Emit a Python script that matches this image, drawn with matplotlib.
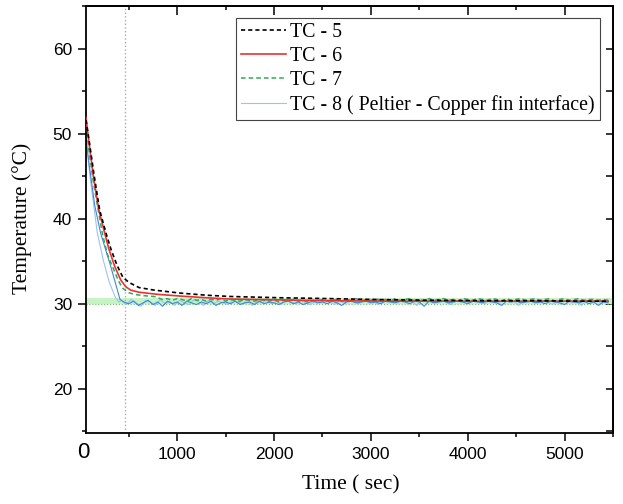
import numpy as np
import matplotlib
matplotlib.use('Agg')
import matplotlib.pyplot as plt
from matplotlib.ticker import MultipleLocator, FixedLocator
import matplotlib.transforms as mtransforms

# ---------- data ----------
# TC-5 (black dashed)
t_tc5 = [59, 95, 140, 200, 273, 320, 380, 440, 503, 606, 761, 1030, 1300, 1547,
         2063, 2580, 3000, 3300, 3700, 4200, 4700, 5200, 5450]
v_tc5 = [51.6, 48.9, 45.3, 41.0, 38.0, 36.3, 34.5, 33.1, 32.5, 31.9, 31.6, 31.25, 31.0, 30.85,
         30.7, 30.6, 30.5, 30.45, 30.4, 30.35, 30.35, 30.3, 30.3]

# TC-6 (red)
t_tc6 = [59, 90, 135, 190, 252, 296, 355, 417, 469, 520, 606, 800, 1030, 1300, 1547,
         2063, 2600, 3200, 4000, 4800, 5450]
v_tc6 = [51.9, 48.9, 45.0, 41.1, 38.3, 36.4, 34.4, 32.8, 32.0, 31.6, 31.35, 31.1, 30.9, 30.7, 30.55,
         30.45, 30.35, 30.3, 30.3, 30.3, 30.3]

# TC-7 (green dashed) - cooling part, then logged plateau every 50 s from 800 s
t_tc7_cool = [59, 90, 135, 227, 280, 331, 390, 434, 500, 555, 650, 761]
v_tc7_cool = [51.0, 48.0, 44.3, 38.3, 35.8, 34.4, 32.8, 31.85, 31.3, 31.1, 30.95, 30.85]
tc7_plateau = [30.7, 30.5, 30.6, 30.4, 30.6, 30.5, 30.3, 30.6, 30.4, 30.5,
               30.3, 30.5, 30.4, 30.6, 30.3, 30.5, 30.4, 30.3, 30.5, 30.4,
               30.3, 30.5, 30.4, 30.3, 30.5, 30.2, 30.4, 30.3, 30.5, 30.3,
               30.4, 30.2, 30.4, 30.3, 30.5, 30.3, 30.4, 30.5, 30.3, 30.5,
               30.4, 30.6, 30.3, 30.5, 30.4, 30.6, 30.4, 30.5, 30.3, 30.6,
               30.4, 30.5, 30.6, 30.4, 30.5, 30.3, 30.6, 30.4, 30.5, 30.6,
               30.4, 30.5, 30.3, 30.6, 30.5, 30.4, 30.6, 30.5, 30.4, 30.6,
               30.5, 30.3, 30.6, 30.4, 30.5, 30.6, 30.4, 30.5, 30.6, 30.4,
               30.5, 30.6, 30.3, 30.5, 30.6, 30.4, 30.5, 30.6, 30.4, 30.5,
               30.5, 30.4, 30.5, 30.4]

# TC-8 (Peltier - copper fin interface), two traces: light blue + darker blue
t_tc8_cool = [59, 100, 176, 240, 300, 360, 400]
v_tc8_cool = [49.5, 45.0, 38.3, 35.0, 32.5, 30.8, 30.2]
t_tc8b_cool = [59, 90, 150, 210, 314, 382, 410]
v_tc8b_cool = [49.3, 46.5, 41.5, 38.3, 34.4, 31.65, 30.5]
tc8_plateau = [30.4, 29.9, 30.5, 30.1, 29.7, 30.4, 30.2, 29.8, 30.5, 30.0,
               30.3, 29.8, 30.4, 30.1, 29.9, 30.5, 30.2, 29.8, 30.4, 30.0,
               30.3, 30.1, 29.9, 30.4, 30.2, 30.0, 30.4, 29.8, 30.3, 30.1,
               30.4, 30.0, 30.3, 29.9, 30.4, 30.2, 30.0, 30.4, 30.1, 29.9,
               30.3, 30.1, 30.4, 30.2, 29.9, 30.3, 30.1, 30.4, 30.2, 30.0,
               30.4, 30.2, 30.3, 29.9, 30.4, 30.2, 30.3, 30.1, 30.4, 30.2,
               30.3, 29.8, 30.4, 30.2, 30.3, 30.1, 30.4, 30.2, 29.9, 30.4,
               30.2, 30.3, 30.1, 30.4, 30.2, 30.0, 30.4, 30.3, 30.1, 30.4,
               30.2, 30.3, 29.8, 30.4, 30.2, 30.3, 30.1, 30.4, 30.2, 29.9,
               30.3, 30.2, 30.4, 30.1, 30.3, 29.8, 30.4, 30.2, 30.3, 30.1, 30.2]
tc8b_plateau = [30.2, 30.0, 30.3, 29.8, 30.1, 30.4, 29.9, 30.2, 29.7, 30.3,
                30.0, 30.2, 29.8, 30.3, 30.1, 29.9, 30.2, 30.0, 30.3, 29.8,
                30.1, 30.2, 30.0, 30.3, 29.9, 30.1, 30.2, 29.9, 30.3, 30.0,
                30.2, 30.1, 29.9, 30.2, 30.3, 30.0, 30.2, 29.9, 30.1, 30.3,
                30.1, 30.2, 30.0, 30.3, 30.1, 29.8, 30.2, 30.3, 30.1, 30.2,
                30.3, 30.1, 30.2, 30.0, 30.3, 30.2, 30.1, 30.3, 30.2, 30.0,
                30.3, 30.2, 29.7, 30.3, 30.1, 30.2, 30.3, 30.1, 30.2, 30.3,
                30.2, 30.0, 30.3, 30.2, 30.1, 30.3, 30.2, 30.1, 29.8, 30.3,
                30.2, 30.3, 30.1, 30.2, 30.3, 30.1, 30.2, 30.0, 30.3, 30.2,
                30.1, 29.9, 30.3, 30.2, 30.1, 30.3, 30.0, 30.2, 29.8, 30.2, 30.1]

t_marker = 462          # vertical reference line (s)
set_point = 30.0        # target temperature band
band_top = 30.65

# ---------- assemble series ----------
t7 = np.concatenate([t_tc7_cool, np.arange(800, 800 + 50 * len(tc7_plateau), 50)])
v7 = np.concatenate([v_tc7_cool, tc7_plateau])
t8 = np.concatenate([t_tc8_cool, np.arange(425, 425 + 50 * len(tc8_plateau), 50)])
v8 = np.concatenate([v_tc8_cool, tc8_plateau])
t8b = np.concatenate([t_tc8b_cool, np.arange(450, 450 + 50 * len(tc8b_plateau), 50)])
v8b = np.concatenate([v_tc8b_cool, tc8b_plateau])

serif = ['Liberation Serif', 'DejaVu Serif']
sans = ['Liberation Sans', 'DejaVu Sans']

fig = plt.figure(figsize=(6.23, 5.04), dpi=100)
ax = fig.add_axes([86 / 623, 71 / 504, 527 / 623, 427 / 504])

xmin, xmax = 59, 5500
ax.axhspan(set_point, band_top, color='#c6f2c6', lw=0, zorder=1)
ax.axhline(set_point, color='#5cc85c', lw=0.8, ls=':', zorder=1.5)
ax.axvline(t_marker, color='#aaaaaa', lw=1.0, ls=':', zorder=1.5)

ax.plot(t8, v8, color='#9cc2ee', lw=0.8, zorder=2, label='TC - 8 ( Peltier - Copper fin interface)')
ax.plot(t8b, v8b, color='#3d88d8', lw=0.8, zorder=2.1)
ax.plot(t7, v7, color='#2eaa5a', lw=1.1, ls=(0, (3, 2)), zorder=2.5, label='TC - 7')
ax.plot(t_tc6, v_tc6, color='#ee3030', lw=1.2, zorder=3, label='TC - 6')
ax.plot(t_tc5, v_tc5, color='black', lw=1.2, ls=(0, (2.5, 1.8)), zorder=3.5, label='TC - 5')

ax.set_xlim(xmin, xmax)
ax.set_ylim(14.8, 65)

ax.xaxis.set_major_locator(FixedLocator([1000, 2000, 3000, 4000, 5000]))
ax.xaxis.set_minor_locator(FixedLocator([500, 1500, 2500, 3500, 4500, 5500]))
ax.yaxis.set_major_locator(MultipleLocator(10))
ax.yaxis.set_minor_locator(MultipleLocator(5))

ax.tick_params(which='both', direction='out', top=False, right=False, width=1.1)
ax.tick_params(which='major', length=6)
ax.tick_params(which='minor', length=3)
ax.tick_params(axis='x', pad=4)
ax.tick_params(axis='y', pad=4)
for lbl in ax.get_xticklabels() + ax.get_yticklabels():
    lbl.set_family(sans)
    lbl.set_fontsize(12.5)

# inward ticks on top and right
sec_x = ax.secondary_xaxis('top')
sec_x.xaxis.set_major_locator(FixedLocator([1000, 2000, 3000, 4000, 5000]))
sec_x.xaxis.set_minor_locator(FixedLocator([500, 1500, 2500, 3500, 4500]))
sec_x.tick_params(which='both', direction='in', labeltop=False, width=1.1)
sec_x.tick_params(which='major', length=6.5)
sec_x.tick_params(which='minor', length=3)
sec_y = ax.secondary_yaxis('right')
sec_y.yaxis.set_major_locator(MultipleLocator(10))
sec_y.yaxis.set_minor_locator(MultipleLocator(5))
sec_y.tick_params(which='both', direction='in', labelright=False, width=1.1)
sec_y.tick_params(which='major', length=5)
sec_y.tick_params(which='minor', length=5)

for s in ax.spines.values():
    s.set_linewidth(1.3)
sec_x.spines['top'].set_linewidth(1.3)
sec_y.spines['right'].set_linewidth(1.3)

# the origin label sits slightly left of the frame in the original
trans = mtransforms.blended_transform_factory(ax.transData, ax.transAxes)
ax.text(28, -0.045, '0', transform=trans, ha='center', va='center',
        fontsize=16, family=sans)

fig.text(22 / 623, 1 - 218 / 504, 'Temperature (°C)', rotation=90, ha='center', va='center',
         fontsize=15.5, family=serif)
fig.text(351 / 623, 1 - 485 / 504, 'Time ( sec)', ha='center', va='center',
         fontsize=15.5, family=serif)

handles, labels = ax.get_legend_handles_labels()
order = [3, 2, 1, 0]
leg = ax.legend([handles[i] for i in order], [labels[i] for i in order],
                loc='upper right', bbox_to_anchor=(0.975, 0.972), borderaxespad=0,
                prop={'family': serif, 'size': 14.3}, frameon=True, fancybox=False,
                framealpha=1, edgecolor='#444444', handlelength=2.3, handletextpad=0.2,
                labelspacing=0.25, borderpad=0.25)
leg.get_frame().set_linewidth(0.8)

fig.savefig('out.png', dpi=100)
